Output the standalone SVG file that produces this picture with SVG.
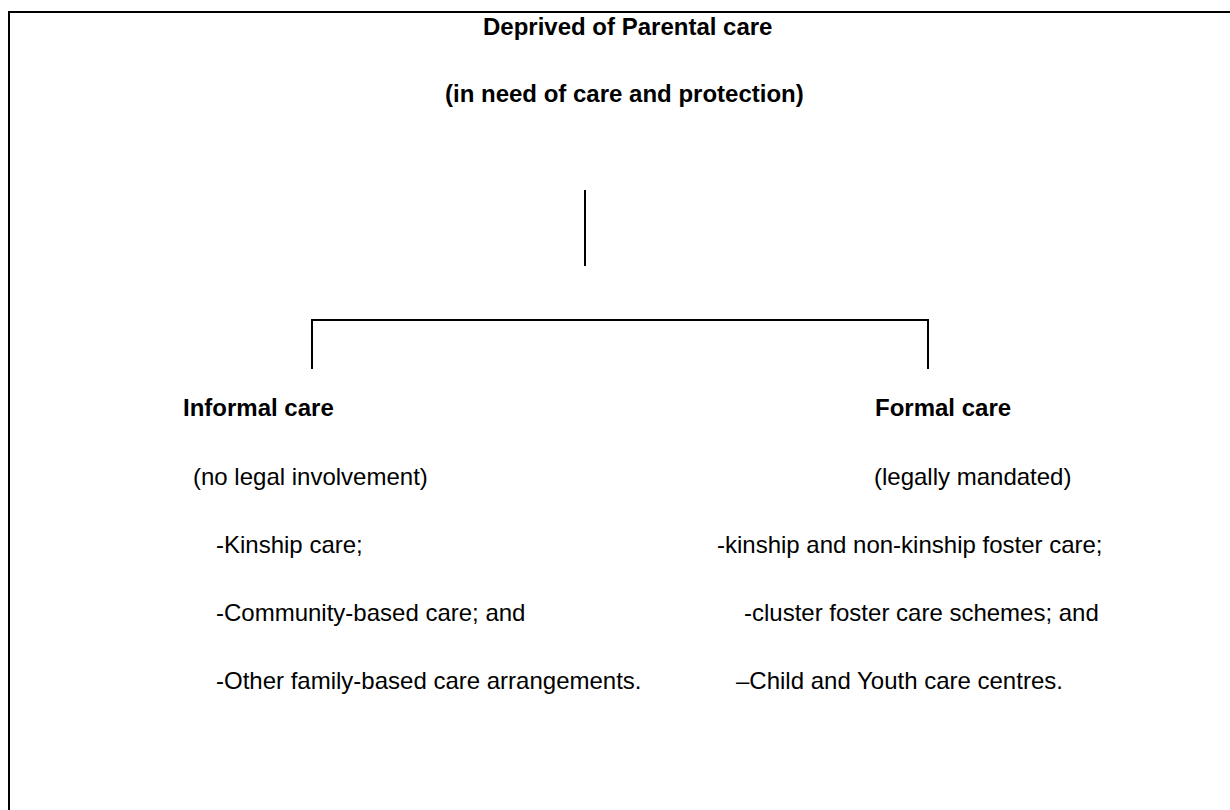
<svg xmlns="http://www.w3.org/2000/svg" width="1230" height="810" viewBox="0 0 1230 810">
<style>
text { font-family: "Liberation Sans", Arial, sans-serif; font-size: 24px; fill: #000; }
.b { font-weight: bold; }
.ln { stroke: #000; stroke-width: 2; fill: none; }
</style>
<rect width="1230" height="810" fill="#fff"/>
<path class="ln" d="M9,810 V12 H1230"/>
<g id="root">
<text class="b" x="483" y="35">Deprived of Parental care</text>
<text class="b" x="445" y="102">(in need of care and protection)</text>
</g>
<g id="connectors">
<line class="ln" x1="585" y1="190" x2="585" y2="266"/>
<path class="ln" d="M312,369 V320 H928 V369"/>
</g>
<g id="informal">
<text class="b" x="183" y="416">Informal care</text>
<text x="193" y="485">(no legal involvement)</text>
<text x="216" y="553">-Kinship care;</text>
<text x="216" y="621">-Community-based care; and</text>
<text x="216" y="689">-Other family-based care arrangements.</text>
</g>
<g id="formal">
<text class="b" x="875" y="416">Formal care</text>
<text x="874" y="485">(legally mandated)</text>
<text x="717" y="553">-kinship and non-kinship foster care;</text>
<text x="744" y="621">-cluster foster care schemes; and</text>
<text x="736" y="689">–Child and Youth care centres.</text>
</g>
</svg>
